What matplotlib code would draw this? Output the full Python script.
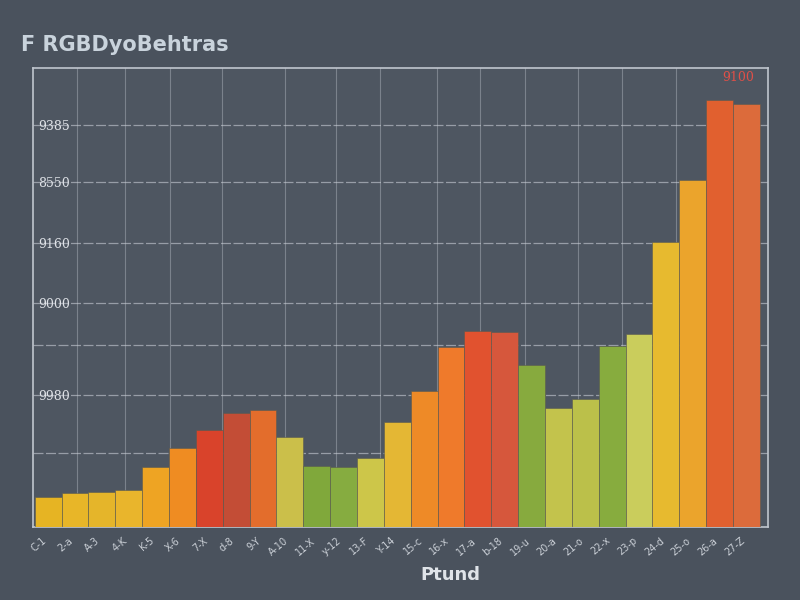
import matplotlib
matplotlib.use("Agg")
import matplotlib.pyplot as plt

# ---- data ----
categories = ["C-1", "2-a", "A-3", "4-K", "K-5", "X-6", "7-X", "d-8", "9-Y", "A-10",
              "11-X", "y-12", "13-F", "Y-14", "15-c", "16-x", "17-a", "b-18", "19-u",
              "20-a", "21-o", "22-x", "23-p", "24-d", "25-o", "26-a", "27-Z"]
values = [6.6, 7.4, 7.6, 8.1, 13.1, 17.2, 21.1, 24.8, 25.5, 19.6, 13.3, 13.0, 15.0,
          22.9, 29.6, 39.2, 42.7, 42.5, 35.3, 25.9, 27.9, 39.4, 42.0, 62.0, 75.6,
          93.0, 92.2]
bar_colors = ["#e6b423", "#e8b628", "#e5b52a", "#e9b52c", "#eea423", "#ef8c22",
              "#d9432b", "#c34d36", "#e36d2c", "#cbbf4a", "#80a83b", "#86ac40",
              "#cdc649", "#e4b734", "#ee8a27", "#ef7a2b", "#e1522f", "#d6573c",
              "#87aa3e", "#c3c34c", "#bbc04a", "#87ac3e", "#cacd5c", "#e7ba2f",
              "#eba42c", "#e1602f", "#dc6b3b"]
y_tick_values = [16.1, 28.8, 39.7, 48.8, 61.9, 75.2, 87.6]
y_tick_labels = ["", "9980", "", "9000", "9160", "8550", "9385"]
grid_x_values = [1.06, 2.85, 4.53, 6.46, 8.81, 10.7, 12.35, 14.47, 16.07, 17.75,
                 19.72, 21.36, 23.37]
title_text = "F RGBDyoBehtras"
x_label_text = "Ptund"
peak_label = "9100"

bg = "#4a525d"
fig = plt.figure(figsize=(8, 6), dpi=100, facecolor=bg)
ax = fig.add_axes([0.041, 0.1217, 0.919, 0.765], facecolor="#4e5661")

x = list(range(len(values)))
ax.bar(x, values, width=1.0, color=bar_colors, edgecolor="#5a5a50", linewidth=0.4, zorder=3)

ax.set_xlim(-0.57, 26.8)
ax.set_ylim(0, 100)

# grid
ax.set_yticks(y_tick_values)
ax.set_yticklabels(y_tick_labels)
ax.set_xticks(grid_x_values, minor=True)
ax.grid(axis="y", which="major", color="#c9ced6", linewidth=0.9, alpha=0.6,
        linestyle=(0, (8, 2)), zorder=1)
ax.grid(axis="x", which="minor", color="#bfc5cd", linewidth=0.8, alpha=0.4, zorder=1)
ax.tick_params(axis="x", which="minor", length=0)

ax.set_xticks(x)
ax.set_xticklabels(categories, rotation=40, ha="right", fontsize=7, color="#c9ced5")
ax.tick_params(axis="x", which="major", length=0, pad=6)

ax.tick_params(axis="y", which="major", length=0, pad=-4, labelsize=9,
               labelcolor="#dfe2e7")
for lab in ax.get_yticklabels():
    lab.set_horizontalalignment("left")
    lab.set_fontfamily("DejaVu Serif")

for s in ax.spines.values():
    s.set_color("#c0c6ce")
    s.set_linewidth(1.2)

fig.text(0.026, 0.925, title_text, fontsize=15, fontweight="bold", color="#c9d3dc",
         ha="left", va="center")
fig.text(0.525, 0.042, x_label_text, fontsize=13, fontweight="bold", color="#dfe3e8",
         ha="left", va="center")
ax.annotate(peak_label, xy=(25.7, values[25]), xytext=(0, 14), textcoords="offset points",
            ha="center", fontsize=9, color="#e05048", fontfamily="DejaVu Serif")

fig.savefig("out.png", dpi=100, facecolor=bg)
